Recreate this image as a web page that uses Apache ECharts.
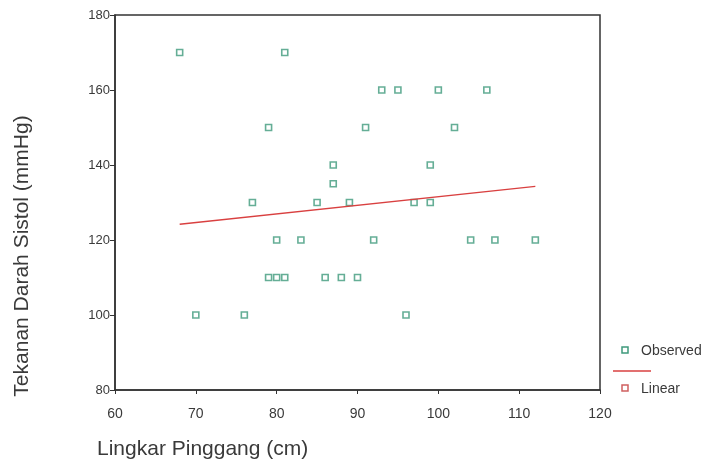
<!DOCTYPE html>
<html><head><meta charset="utf-8">
<script src="https://cdn.jsdelivr.net/npm/echarts@6/dist/echarts.min.js"></script>
<style>html,body{margin:0;padding:0;background:#fff}#c{width:710px;height:466px}</style>
</head><body><div id="c"></div>
<script>
// Observed data: waist circumference (cm) and systolic blood pressure (mmHg)
const waist = [68,81, 93,95,100,106, 79,91,102, 87,99, 87, 77,85,89,97,99, 80,83,92,104,107,112, 79,80,81,86,88,90, 70,76,96];
const systolic = [170,170, 160,160,160,160, 150,150,150, 140,140, 135, 130,130,130,130,130, 120,120,120,120,120,120, 110,110,110,110,110,110, 100,100,100];
// Linear fit line endpoints
const fitX = [68, 112];
const fitY = [124.2, 134.3];
const xTicks = [60,70,80,90,100,110,120];
const yTicks = [80,100,120,140,160,180];
const xTitle = 'Lingkar Pinggang (cm)';
const yTitle = 'Tekanan Darah Sistol (mmHg)';
const legendNames = ['Observed','Linear'];

const chart = echarts.init(document.getElementById('c'));
const font = 'Liberation Sans, Arial, sans-serif';
const green = '#3f9a7c', red = '#d94040', txt = '#3a3a3a';
chart.setOption({
  backgroundColor:'#fff',
  animation:false,
  textStyle:{fontFamily:font},
  grid:{left:115,right:110,top:15,bottom:76,show:true,borderColor:'#333',borderWidth:1.5,backgroundColor:'transparent'},
  xAxis:{type:'value',min:xTicks[0],max:xTicks[xTicks.length-1],interval:10,
    axisLine:{show:true,lineStyle:{color:'#333',width:1.5}},
    axisTick:{show:true,length:4,lineStyle:{color:'#333'}},
    axisLabel:{fontSize:14,color:txt,margin:17},
    splitLine:{show:false}},
  yAxis:{type:'value',min:yTicks[0],max:yTicks[yTicks.length-1],interval:20,
    axisLine:{show:true,lineStyle:{color:'#333',width:1.5}},
    axisTick:{show:true,length:5,lineStyle:{color:'#333'}},
    axisLabel:{fontSize:13,color:txt,margin:5},
    splitLine:{show:false}},
  graphic:[
    {type:'text',left:97,top:439,style:{text:xTitle,font:'21px '+font,fill:txt}},
    {type:'text',x:22,y:256,rotation:Math.PI/2,style:{text:yTitle,font:'21px '+font,fill:txt,align:'center',verticalAlign:'middle'}},
    {type:'rect',shape:{x:622,y:347,width:6,height:6},style:{fill:'none',stroke:green,lineWidth:1.5}},
    {type:'text',x:641,y:351,style:{text:legendNames[0],font:'14px '+font,fill:txt,verticalAlign:'middle'}},
    {type:'line',shape:{x1:613,y1:371,x2:651,y2:371},style:{stroke:red,lineWidth:1.3}},
    {type:'rect',shape:{x:622,y:385,width:6,height:6},style:{fill:'none',stroke:'#d06060',lineWidth:1.5}},
    {type:'text',x:641,y:389,style:{text:legendNames[1],font:'14px '+font,fill:txt,verticalAlign:'middle'}}
  ],
  series:[
    {name:'Observed',type:'scatter',data:waist.map((x,i)=>[x,systolic[i]]),symbol:'rect',symbolSize:6,
     itemStyle:{color:'#fff',borderColor:green,borderWidth:1.6}},
    {name:'Linear',type:'line',data:fitX.map((x,i)=>[x,fitY[i]]),symbol:'none',
     lineStyle:{color:red,width:1.3},itemStyle:{color:red}}
  ]
});
</script></body></html>
